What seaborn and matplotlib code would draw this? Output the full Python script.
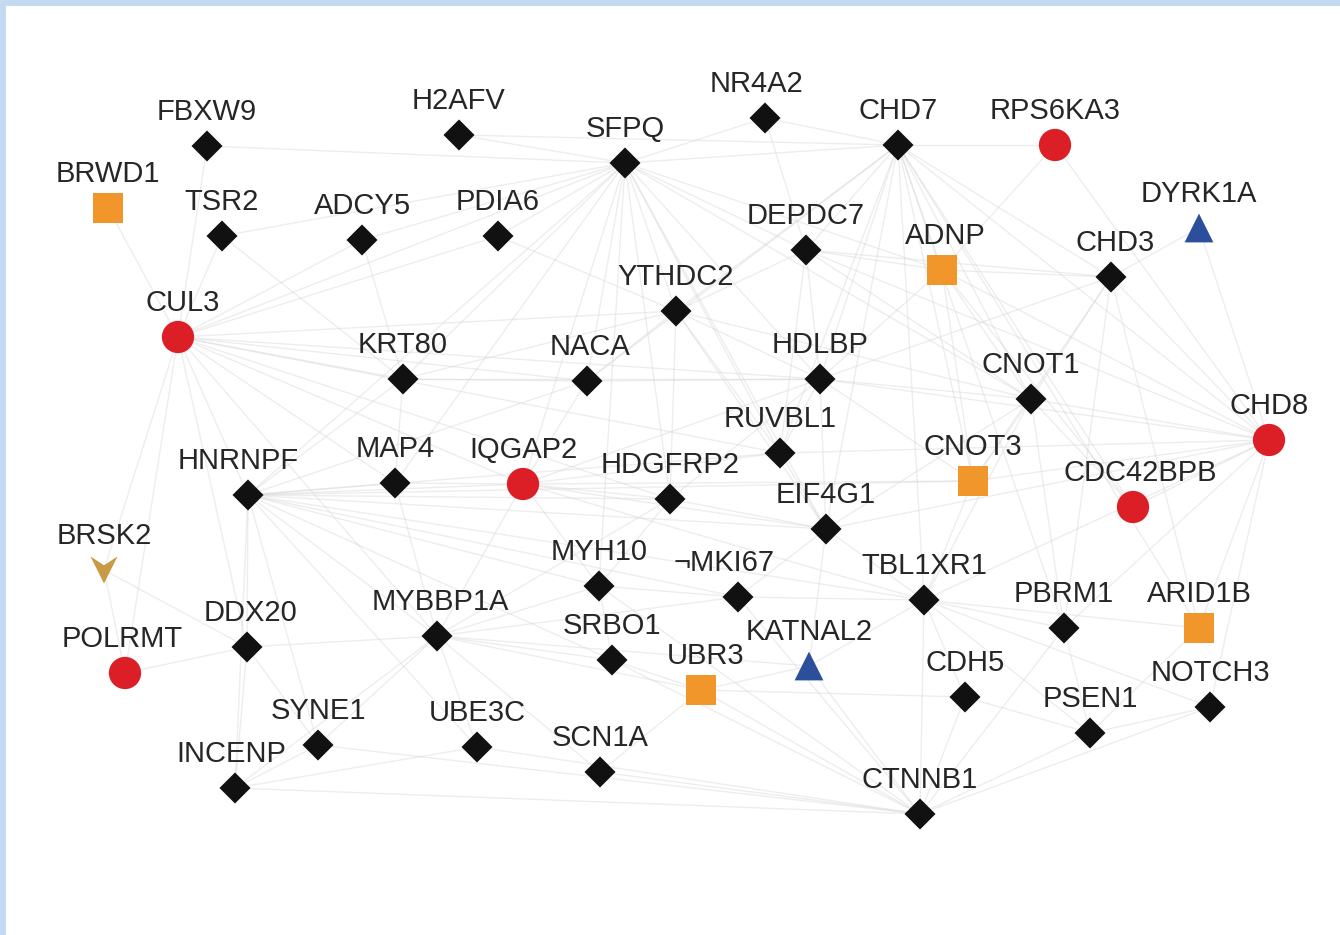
import numpy as np
import pandas as pd
import matplotlib
matplotlib.use("Agg")
import matplotlib.pyplot as plt
from matplotlib.collections import LineCollection
from matplotlib.lines import Line2D
import seaborn as sns

# ---------------- data ----------------
genes = ["FBXW9", "H2AFV", "NR4A2", "SFPQ", "CHD7", "RPS6KA3", "BRWD1", "TSR2",
         "ADCY5", "PDIA6", "DEPDC7", "ADNP", "CHD3", "DYRK1A", "YTHDC2", "CUL3",
         "KRT80", "NACA", "HDLBP", "CNOT1", "RUVBL1", "CHD8", "HNRNPF", "MAP4",
         "IQGAP2", "HDGFRP2", "CNOT3", "CDC42BPB", "EIF4G1", "BRSK2", "MYH10",
         "MKI67", "TBL1XR1", "PBRM1", "ARID1B", "DDX20", "MYBBP1A", "SRBO1",
         "KATNAL2", "UBR3", "CDH5", "NOTCH3", "POLRMT", "PSEN1", "SYNE1",
         "UBE3C", "SCN1A", "INCENP", "CTNNB1"]
labels = {g: g for g in genes}
labels["MKI67"] = "¬MKI67"

node_x = [207, 459, 765, 625, 898, 1055, 108, 222,
          362, 498, 806, 942, 1111, 1199, 676, 178,
          403, 587, 820, 1031, 780, 1269, 248, 395,
          523, 670, 973, 1133, 826, 104, 599,
          738, 924, 1064, 1199, 247, 437, 612,
          809, 701, 965, 1210, 125, 1090, 318,
          477, 600, 235, 920]
node_y = [146, 135, 118, 163, 145, 145, 208, 236,
          240, 236, 250, 270, 277, 228, 311, 337,
          379, 381, 379, 399, 453, 440, 495, 483,
          484, 499, 481, 507, 529, 570, 586,
          597, 600, 628, 628, 647, 636, 660,
          666, 690, 697, 707, 673, 733, 745,
          747, 772, 788, 814]
group = ["network", "network", "network", "network", "network", "circle", "square", "network",
         "network", "network", "network", "square", "network", "triangle", "network", "circle",
         "network", "network", "network", "network", "network", "circle", "network", "network",
         "circle", "network", "square", "circle", "network", "chevron", "network",
         "network", "network", "network", "square", "network", "network", "network",
         "triangle", "square", "network", "network", "circle", "network", "network",
         "network", "network", "network", "network"]

edges = {
    "SFPQ": ["FBXW9", "H2AFV", "NR4A2", "CHD7", "TSR2", "ADCY5", "PDIA6", "YTHDC2", "NACA",
             "KRT80", "DEPDC7", "HDLBP", "HDGFRP2", "RUVBL1", "MAP4", "IQGAP2", "CUL3", "ADNP",
             "CNOT1", "EIF4G1", "MYH10", "HNRNPF"],
    "CHD7": ["NR4A2", "DEPDC7", "ADNP", "CHD3", "CNOT1", "CHD8", "HDLBP", "YTHDC2", "CNOT3",
             "RUVBL1", "TBL1XR1", "PBRM1", "ARID1B", "CDC42BPB", "EIF4G1", "RPS6KA3", "H2AFV", "NACA"],
    "CUL3": ["BRWD1", "TSR2", "FBXW9", "KRT80", "NACA", "MAP4", "HNRNPF", "IQGAP2", "HDGFRP2",
             "YTHDC2", "ADCY5", "PDIA6", "BRSK2", "POLRMT", "DDX20", "HDLBP", "MYBBP1A", "RUVBL1"],
    "HNRNPF": ["MAP4", "IQGAP2", "HDGFRP2", "EIF4G1", "RUVBL1", "MYBBP1A", "MYH10", "MKI67",
               "DDX20", "INCENP", "SYNE1", "UBE3C", "SRBO1", "CNOT3", "TBL1XR1", "KRT80", "NACA"],
    "CTNNB1": ["INCENP", "SCN1A", "UBE3C", "KATNAL2", "CDH5", "PSEN1", "NOTCH3", "TBL1XR1",
               "MKI67", "UBR3", "PBRM1", "SYNE1", "MYH10", "SRBO1"],
    "CHD8": ["CHD3", "DYRK1A", "CNOT1", "CDC42BPB", "CNOT3", "ARID1B", "NOTCH3", "PBRM1", "HDLBP",
             "DEPDC7", "ADNP", "RPS6KA3", "TBL1XR1", "EIF4G1", "RUVBL1"],
    "CHD3": ["ADNP", "CNOT1", "DYRK1A", "DEPDC7", "HDLBP", "CNOT3", "PBRM1", "ARID1B"],
    "YTHDC2": ["DEPDC7", "NACA", "HDLBP", "HDGFRP2", "RUVBL1", "KRT80", "PDIA6", "EIF4G1", "CNOT1"],
    "HDLBP": ["DEPDC7", "ADNP", "CNOT1", "RUVBL1", "CNOT3", "HDGFRP2", "EIF4G1", "KRT80", "IQGAP2", "NACA"],
    "MYBBP1A": ["MAP4", "MYH10", "SRBO1", "UBE3C", "SYNE1", "DDX20", "MKI67", "HDGFRP2", "SCN1A",
                "UBR3", "KATNAL2", "IQGAP2", "INCENP"],
    "IQGAP2": ["MAP4", "NACA", "HDGFRP2", "MYH10", "EIF4G1", "RUVBL1", "CNOT3", "TBL1XR1"],
    "CNOT1": ["CNOT3", "ADNP", "DEPDC7", "TBL1XR1", "CDC42BPB", "PBRM1", "EIF4G1"],
    "TBL1XR1": ["EIF4G1", "PBRM1", "ARID1B", "CDH5", "KATNAL2", "MKI67", "CNOT3", "NOTCH3", "PSEN1"],
    "DDX20": ["POLRMT", "INCENP", "SYNE1", "BRSK2"],
    "KRT80": ["MAP4", "NACA", "ADCY5", "TSR2"],
    "PSEN1": ["NOTCH3", "CDH5", "PBRM1", "ARID1B"],
    "UBR3": ["SRBO1", "KATNAL2", "SCN1A", "CDH5"],
    "DEPDC7": ["ADNP", "NR4A2", "RUVBL1"],
    "BRSK2": ["POLRMT"],
    "INCENP": ["SYNE1", "UBE3C"],
    "MYH10": ["SRBO1", "MKI67", "HDGFRP2"],
    "ADNP": ["CNOT3", "CDC42BPB", "RPS6KA3"],
    "EIF4G1": ["RUVBL1", "HDGFRP2", "MKI67", "KATNAL2"],
}

# ---------------- style ----------------
palette = {"network": "#111111", "circle": "#dc1f26", "square": "#f0962a",
           "triangle": "#2b4f9a", "chevron": "#c99a44"}
chevron = [(-1.0, 1.0), (0.0, 0.35), (1.0, 1.0), (0.0, -1.0), (-1.0, 1.0)]
markers = {"network": "D", "circle": "o", "square": "s", "triangle": "^", "chevron": chevron}
sizes = {"network": 250, "circle": 540, "square": 470, "triangle": 430, "chevron": 380}

df = pd.DataFrame({"gene": genes, "x": node_x, "y": node_y, "group": group})
pos = dict(zip(genes, zip(node_x, node_y)))

sns.set_theme(style="white")
plt.rcParams["font.family"] = ["Liberation Sans", "DejaVu Sans"]

fig = plt.figure(figsize=(13.4, 9.35), dpi=100)
ax = fig.add_axes([0, 0, 1, 1])

segs = []
for a, targets in edges.items():
    for b in targets:
        segs.append([pos[a], pos[b]])
ax.add_collection(LineCollection(segs, colors="#d8d8d8", linewidths=1.0, alpha=0.45, zorder=1))

sns.scatterplot(data=df, x="x", y="y", hue="group", style="group", size="group",
                palette=palette, markers=markers, sizes=sizes, linewidth=0,
                legend=False, ax=ax, zorder=3)
ax.set_xlim(0, 1340)
ax.set_ylim(935, 0)
ax.axis("off")

label_dx = {"HNRNPF": -10, "MKI67": -14, "CDC42BPB": 7, "CUL3": 5, "NR4A2": -8,
            "ADNP": 3, "CHD3": 4, "POLRMT": -3, "INCENP": -4, "UBR3": 5,
            "DDX20": 3, "MYBBP1A": 3, "NACA": 3}
for g, x, y in zip(genes, node_x, node_y):
    ax.text(x + label_dx.get(g, 0), y - 34, labels[g], ha="center", va="center",
            fontsize=21, color="#262626", zorder=4)

# light blue frame on the left and top edges
frame_kw = dict(transform=fig.transFigure, color="#c3daf1", linewidth=5, zorder=10)
fig.lines.append(Line2D([0.0015, 0.0015], [0, 1], **frame_kw))
fig.lines.append(Line2D([0, 1], [0.998, 0.998], **frame_kw))

fig.savefig("out.png", dpi=100)
